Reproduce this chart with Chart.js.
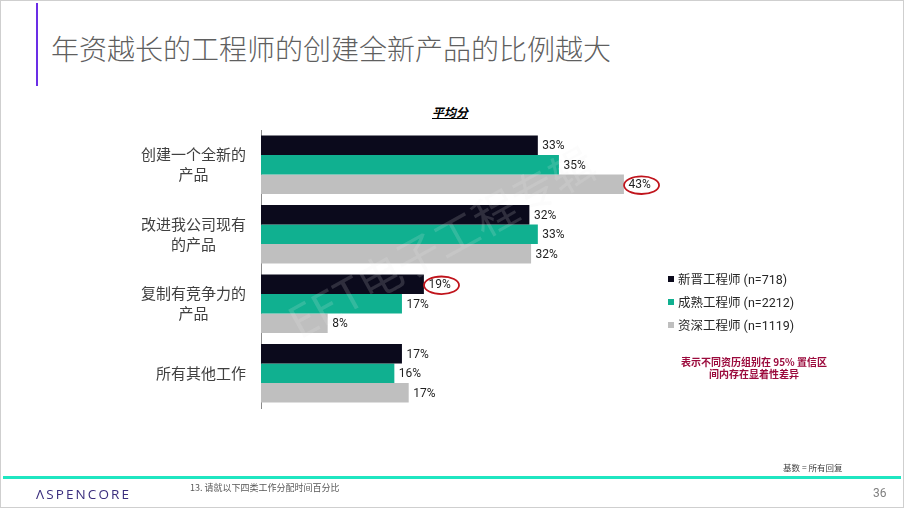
<!DOCTYPE html>
<html>
<head>
<meta charset="utf-8">
<script src="https://cdn.jsdelivr.net/npm/chart.js@4.4.1/dist/chart.umd.min.js"></script>
<style>
  html, body { margin: 0; padding: 0; background: #fff; }
  body { width: 904px; height: 508px; position: relative; overflow: hidden;
         font-family: Roboto, "Noto Sans CJK SC", sans-serif; }
  .abs { position: absolute; white-space: nowrap; }
  #frame { left: 0; top: 0; width: 904px; height: 508px; box-sizing: border-box; border: 1px solid #cfcfcf; }
  #accent { left: 36px; top: 3px; width: 2px; height: 83px; background: #6b2ee6; }
  #title { left: 51px; top: 33px; font-size: 28px; line-height: 30px; color: #5f5f5f; font-weight: 300; font-family: "Noto Sans CJK SC", sans-serif; }
  #sub { left: 400px; width: 100px; text-align: center; top: 104px; font-size: 12px; line-height: 16px; font-weight: bold; font-style: italic; text-decoration: underline; color: #000; font-family: "Noto Sans CJK SC", sans-serif; }
  #chart { position: absolute; left: 0; top: 0; }
  #legend { left: 668px; top: 270px; font-size: 12.5px; color: #262626; }
  .lg { height: 23px; line-height: 20px; }
  .sw { display: inline-block; width: 6px; height: 6px; margin-right: 4px; vertical-align: 2px; }
  #note { left: 674px; width: 160px; top: 356px; text-align: center; font-size: 10px; line-height: 12px; font-weight: bold; color: #9b0a3c; font-family: "Noto Sans CJK SC", sans-serif; }
  #base { left: 783px; top: 461px; font-size: 8.5px; line-height: 12px; color: #404040; font-family: "Noto Sans CJK SC", sans-serif; }
  #teal { left: 3px; top: 476px; width: 898px; height: 3px; background: #1fe6c1; }
  #logo { left: 36px; top: 486px; font-size: 13.5px; line-height: 16px; letter-spacing: 2.1px; color: #3a2d7d; font-family: "Open Sans", Roboto, sans-serif; }
  #foot { left: 190px; top: 482px; font-size: 9px; line-height: 12px; color: #595959; font-family: "Noto Sans CJK SC", sans-serif; }
  #page { left: 873px; top: 485px; font-size: 12px; line-height: 16px; color: #7f7f7f; }
</style>
</head>
<body>
<div id="frame" class="abs"></div>
<div id="accent" class="abs"></div>
<div id="title" class="abs">年资越长的工程师的创建全新产品的比例越大</div>
<div id="sub" class="abs">平均分</div>
<canvas id="chart" width="904" height="508"></canvas>
<div id="legend" class="abs"></div>
<div id="note" class="abs">表示不同资历组别在 95% 置信区<br>间内存在显着性差异</div>
<div id="base" class="abs">基数 = 所有回复</div>
<div id="teal" class="abs"></div>
<div id="logo" class="abs">ΛSPENCORE</div>
<div id="foot" class="abs">13. 请就以下四类工作分配时间百分比</div>
<div id="page" class="abs">36</div>
<script>
// ---- data ----
const categories = [
  ["创建一个全新的", "产品"],
  ["改进我公司现有", "的产品"],
  ["复制有竞争力的", "产品"],
  ["所有其他工作"]
];
const seriesNames = ["新晋工程师 (n=718)", "成熟工程师 (n=2212)", "资深工程师 (n=1119)"];
const juniorValues = [32.8, 31.8, 19.3, 16.7];
const matureValues = [35.3, 32.8, 16.7, 15.8];
const seniorValues = [43.0, 32.0, 7.9, 17.5];
const juniorLabels = ["33%", "32%", "19%", "17%"];
const matureLabels = ["35%", "33%", "17%", "16%"];
const seniorLabels = ["43%", "32%", "8%", "17%"];
// significant differences: [series index, category index]
const significant = [[2, 0], [0, 2]];
const watermarkText = "EET电子工程专辑";

const colors = ["#0b0a1c", "#10b090", "#bfbfbf"];
const valueLabels = [juniorLabels, matureLabels, seniorLabels];

// legend (HTML)
const lg = document.getElementById('legend');
seriesNames.forEach((n, i) => {
  const d = document.createElement('div');
  d.className = 'lg';
  d.innerHTML = '<span class="sw" style="background:' + colors[i] + '"></span>' + n;
  lg.appendChild(d);
});

Chart.defaults.font.family = "Roboto, 'Noto Sans CJK SC', sans-serif";

const catLabelPlugin = {
  id: 'catLabels',
  afterDraw(chart) {
    const ctx = chart.ctx;
    const ys = chart.scales.y;
    ctx.save();
    ctx.font = "15px 'Noto Sans CJK SC', sans-serif";
    ctx.fillStyle = '#404040';
    ctx.textAlign = 'center';
    ctx.textBaseline = 'middle';
    const rightEdge = ys.right - 15;
    const lineH = 20;
    categories.forEach((lines, i) => {
      const y = ys.getPixelForTick(i);
      const w = Math.max(...lines.map(l => ctx.measureText(l).width));
      const cx = rightEdge - w / 2;
      const y0 = y - (lines.length - 1) * lineH / 2;
      lines.forEach((l, k) => ctx.fillText(l, cx, y0 + k * lineH));
    });
    ctx.restore();
  }
};

const valueLabelPlugin = {
  id: 'valueLabels',
  afterDatasetsDraw(chart) {
    const ctx = chart.ctx;
    // faint watermark
    ctx.save();
    ctx.translate(300, 340);
    ctx.rotate(-29 * Math.PI / 180);
    ctx.font = "44px 'Noto Sans CJK SC', sans-serif";
    ctx.fillStyle = 'rgba(235,235,235,0.16)';
    ctx.textBaseline = 'alphabetic';
    ctx.fillText(watermarkText, 0, 0);
    ctx.restore();

    ctx.save();
    ctx.font = "12px Roboto, sans-serif";
    ctx.fillStyle = '#1f1f1f';
    ctx.textBaseline = 'middle';
    ctx.textAlign = 'left';
    chart.data.datasets.forEach((ds, di) => {
      const meta = chart.getDatasetMeta(di);
      meta.data.forEach((bar, i) => {
        const txt = valueLabels[di][i];
        const x = bar.x + 4.5;
        const y = bar.y + 1;
        ctx.fillText(txt, x, y);
        if (significant.some(s => s[0] === di && s[1] === i)) {
          const w = ctx.measureText(txt).width;
          ctx.save();
          ctx.strokeStyle = '#c0141c';
          ctx.lineWidth = 1.8;
          ctx.beginPath();
          ctx.ellipse(x + w / 2 + 2, y, 17.5, 8.8, 0, 0, Math.PI * 2);
          ctx.stroke();
          ctx.restore();
        }
      });
    });
    ctx.restore();
  }
};

new Chart(document.getElementById('chart'), {
  type: 'bar',
  data: {
    labels: categories,
    datasets: [juniorValues, matureValues, seniorValues].map((v, i) => ({
      label: seriesNames[i],
      data: v,
      backgroundColor: colors[i],
      borderWidth: 0,
      categoryPercentage: 0.84,
      barPercentage: 1.0
    }))
  },
  options: {
    indexAxis: 'y',
    responsive: false,
    animation: false,
    events: [],
    layout: { padding: { left: 251, right: 221, top: 130, bottom: 100 } },
    plugins: { legend: { display: false }, tooltip: { enabled: false }, title: { display: false } },
    scales: {
      x: { display: false, min: 0, max: 50 },
      y: {
        ticks: { display: false },
        grid: { display: false, drawTicks: false },
        border: { display: true, color: '#8a8a8a', width: 1 },
        afterFit: (s) => { s.width = 10; }
      }
    }
  },
  plugins: [catLabelPlugin, valueLabelPlugin]
});
</script>
</body>
</html>
